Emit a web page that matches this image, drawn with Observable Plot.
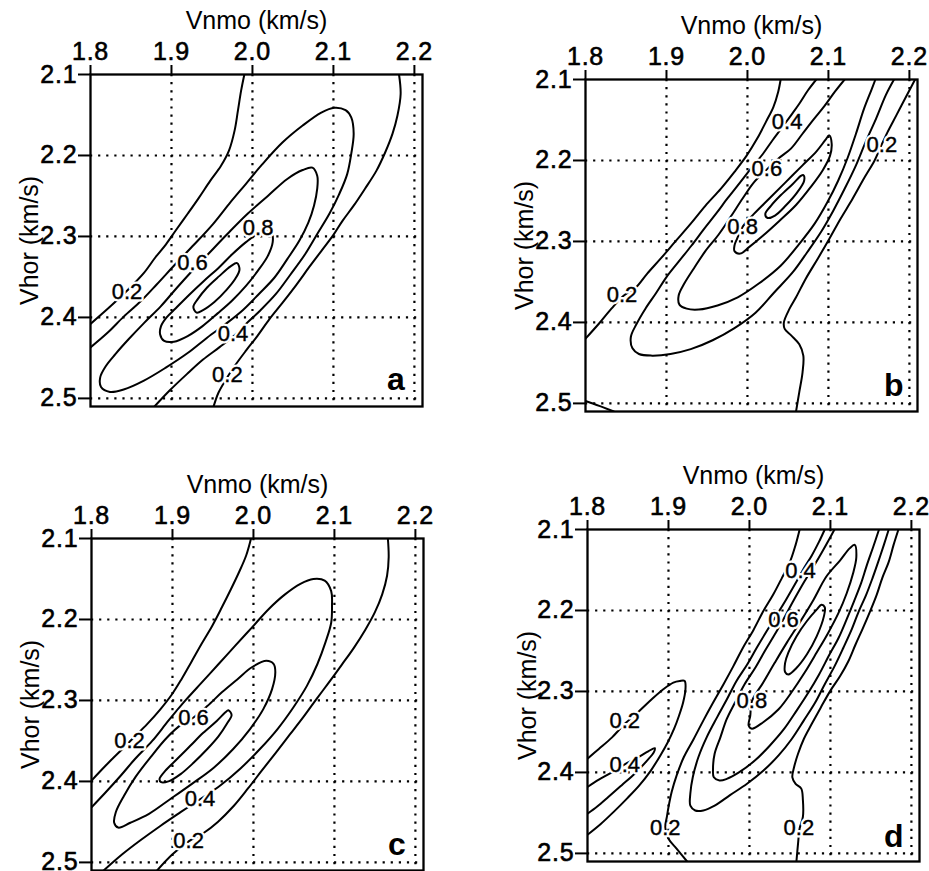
<!DOCTYPE html>
<html><head><meta charset="utf-8">
<script src="https://cdn.jsdelivr.net/npm/d3@7"></script>
<script src="https://cdn.jsdelivr.net/npm/@observablehq/plot@0.6"></script>
<style>
html,body{margin:0;padding:0;background:#fff;overflow:hidden;}
#fig{position:relative;width:929px;height:871px;overflow:hidden;background:#fff;font-family:"Liberation Sans",Arial,Helvetica,sans-serif;}
#fig > *{position:absolute;}
#fig .ytitle{font-size:25px;line-height:25px;white-space:nowrap;color:#000;transform-origin:0 0;}
svg g[aria-label="x-axis tick label"] text, svg g[aria-label="y-axis tick label"] text{letter-spacing:0.8px;}
</style></head><body><div id="fig"></div>
<script>
const xTicks = [1.8, 1.9, 2.0, 2.1, 2.2];
const yTicks = [2.1, 2.2, 2.3, 2.4, 2.5];
const gridX = [1.9, 2.0, 2.1, 2.2];
const gridY = [2.2, 2.3, 2.4, 2.5];
const xTitle = "Vnmo (km/s)";
const yTitle = "Vhor (km/s)";

// ---- panel a : contour lines [Vnmo, Vhor]
const a_l02 = [[1.990,2.100],[1.986,2.120],[1.982,2.145],[1.978,2.169],[1.971,2.194],[1.961,2.213],[1.948,2.231],[1.934,2.252],[1.920,2.272],[1.905,2.293],[1.893,2.310],[1.880,2.326],[1.866,2.345],[1.845,2.367],[1.825,2.386],[1.800,2.408]];
const a_l04 = [[1.800,2.437],[1.821,2.419],[1.841,2.399],[1.862,2.380],[1.882,2.359],[1.905,2.334],[1.928,2.310],[1.951,2.285],[1.971,2.260],[1.992,2.235],[2.012,2.211],[2.037,2.184],[2.062,2.163],[2.085,2.147],[2.101,2.141],[2.115,2.144],[2.122,2.153],[2.125,2.173],[2.122,2.198],[2.117,2.223],[2.107,2.248],[2.095,2.272],[2.080,2.297],[2.065,2.322],[2.047,2.347],[2.029,2.371],[2.009,2.392],[1.992,2.408],[1.977,2.423],[1.959,2.437],[1.939,2.452],[1.919,2.470],[1.898,2.490],[1.879,2.510]];
const a_l06 = [[2.074,2.215],[2.080,2.225],[2.080,2.241],[2.076,2.262],[2.069,2.283],[2.058,2.305],[2.043,2.328],[2.027,2.351],[2.008,2.371],[1.988,2.391],[1.967,2.408],[1.944,2.425],[1.920,2.444],[1.893,2.462],[1.866,2.478],[1.841,2.489],[1.824,2.492],[1.813,2.486],[1.812,2.474],[1.819,2.460],[1.831,2.445],[1.847,2.427],[1.866,2.407],[1.887,2.386],[1.907,2.363],[1.926,2.342],[1.946,2.321],[1.969,2.297],[1.994,2.272],[2.019,2.250],[2.043,2.229],[2.062,2.218]];
const a_l08 = [[2.024,2.297],[2.025,2.307],[2.019,2.324],[2.007,2.342],[1.992,2.361],[1.975,2.379],[1.957,2.395],[1.938,2.411],[1.920,2.423],[1.903,2.430],[1.891,2.429],[1.886,2.421],[1.887,2.411],[1.894,2.400],[1.905,2.389],[1.922,2.372],[1.940,2.355],[1.959,2.338],[1.975,2.322],[1.992,2.307],[2.006,2.297],[2.016,2.294]];
const a_l09 = [[1.981,2.333],[1.984,2.341],[1.979,2.352],[1.968,2.366],[1.953,2.381],[1.939,2.391],[1.931,2.394],[1.927,2.387],[1.932,2.378],[1.944,2.363],[1.959,2.349],[1.973,2.337]];
const a_r02 = [[2.181,2.100],[2.183,2.124],[2.179,2.151],[2.173,2.173],[2.164,2.196],[2.153,2.219],[2.139,2.241],[2.125,2.262],[2.111,2.281],[2.100,2.298],[2.085,2.318],[2.070,2.338],[2.054,2.360],[2.037,2.382],[2.021,2.402],[2.006,2.423],[1.992,2.441],[1.978,2.460],[1.967,2.477],[1.958,2.493],[1.952,2.510]];
const a_labels = [[1.845,2.368,"0.2"],[1.926,2.333,"0.6"],[2.007,2.290,"0.8"],[1.976,2.420,"0.4"],[1.969,2.471,"0.2"]];

// ---- panel b
const b_l02 = [[2.041,2.100],[2.038,2.115],[2.032,2.134],[2.023,2.152],[2.012,2.173],[1.999,2.194],[1.984,2.214],[1.967,2.235],[1.948,2.256],[1.930,2.278],[1.911,2.300],[1.893,2.321],[1.876,2.340],[1.862,2.357],[1.847,2.367],[1.832,2.383],[1.817,2.401],[1.800,2.420]];
const b_l04 = [[2.085,2.100],[2.075,2.113],[2.064,2.130],[2.054,2.144],[2.043,2.159],[2.031,2.175],[2.019,2.192],[2.005,2.209],[1.991,2.227],[1.976,2.246],[1.961,2.266],[1.946,2.285],[1.931,2.305],[1.915,2.325],[1.900,2.344],[1.887,2.364],[1.874,2.383],[1.863,2.402],[1.856,2.418],[1.858,2.432],[1.866,2.439],[1.882,2.441],[1.905,2.439],[1.930,2.433],[1.957,2.422],[1.984,2.407],[2.010,2.388],[2.033,2.363],[2.056,2.338],[2.074,2.313],[2.091,2.288],[2.106,2.262],[2.120,2.235],[2.134,2.206],[2.146,2.177],[2.159,2.148],[2.171,2.119],[2.181,2.100]];
const b_l06 = [[2.120,2.100],[2.108,2.115],[2.095,2.133],[2.082,2.149],[2.068,2.167],[2.054,2.185],[2.039,2.197],[2.024,2.211],[2.008,2.227],[1.994,2.247],[1.979,2.270],[1.964,2.292],[1.948,2.312],[1.934,2.333],[1.922,2.352],[1.915,2.367],[1.916,2.378],[1.925,2.383],[1.940,2.384],[1.963,2.379],[1.988,2.369],[2.014,2.352],[2.041,2.330],[2.064,2.303],[2.083,2.278],[2.099,2.251],[2.112,2.225],[2.124,2.196],[2.134,2.167],[2.144,2.136],[2.153,2.113],[2.158,2.100]];
const b_l08 = [[2.101,2.169],[2.104,2.179],[2.102,2.194],[2.093,2.212],[2.078,2.233],[2.060,2.255],[2.039,2.275],[2.019,2.293],[2.002,2.307],[1.991,2.315],[1.984,2.312],[1.984,2.305],[1.987,2.297],[1.994,2.282],[2.008,2.266],[2.027,2.247],[2.047,2.227],[2.068,2.206],[2.085,2.189],[2.096,2.175]];
const b_l09 = [[2.069,2.218],[2.070,2.225],[2.061,2.240],[2.047,2.256],[2.034,2.268],[2.025,2.271],[2.022,2.266],[2.029,2.256],[2.041,2.243],[2.056,2.229],[2.066,2.219]];
const b_r02 = [[2.207,2.100],[2.196,2.121],[2.184,2.144],[2.173,2.165],[2.165,2.182],[2.157,2.200],[2.144,2.222],[2.130,2.247],[2.115,2.272],[2.101,2.297],[2.087,2.321],[2.072,2.346],[2.060,2.369],[2.052,2.383],[2.045,2.400],[2.046,2.408],[2.054,2.416],[2.064,2.427],[2.069,2.441],[2.068,2.462],[2.064,2.486],[2.060,2.510]];
const b_c02 = [[1.800,2.497],[1.817,2.503],[1.835,2.510]];
const b_labels = [[2.049,2.152,"0.4"],[2.024,2.211,"0.6"],[1.994,2.282,"0.8"],[2.166,2.181,"0.2"],[1.845,2.366,"0.2"]];

// ---- panel c
const c_l02 = [[1.997,2.100],[1.991,2.121],[1.982,2.142],[1.972,2.163],[1.961,2.185],[1.949,2.208],[1.936,2.230],[1.923,2.253],[1.911,2.274],[1.899,2.293],[1.885,2.311],[1.869,2.329],[1.854,2.344],[1.847,2.351],[1.834,2.364],[1.817,2.381],[1.800,2.399]];
const c_l04 = [[1.800,2.432],[1.817,2.414],[1.836,2.393],[1.854,2.372],[1.875,2.350],[1.895,2.325],[1.916,2.300],[1.936,2.278],[1.957,2.255],[1.977,2.233],[1.998,2.210],[2.019,2.187],[2.039,2.169],[2.058,2.156],[2.074,2.150],[2.088,2.152],[2.096,2.165],[2.097,2.183],[2.096,2.204],[2.089,2.228],[2.079,2.255],[2.066,2.282],[2.049,2.309],[2.030,2.335],[2.008,2.360],[1.984,2.384],[1.959,2.405],[1.934,2.422],[1.910,2.438],[1.885,2.455],[1.860,2.473],[1.838,2.490],[1.815,2.510]];
const c_l06 = [[2.016,2.251],[2.025,2.255],[2.027,2.265],[2.023,2.286],[2.012,2.311],[1.996,2.335],[1.975,2.360],[1.951,2.383],[1.924,2.403],[1.897,2.422],[1.871,2.440],[1.848,2.451],[1.833,2.457],[1.828,2.451],[1.830,2.438],[1.840,2.418],[1.854,2.395],[1.873,2.370],[1.893,2.346],[1.912,2.329],[1.926,2.321],[1.943,2.307],[1.961,2.290],[1.980,2.274],[1.998,2.259]];
const c_l08 = [[1.969,2.312],[1.973,2.318],[1.967,2.329],[1.957,2.344],[1.943,2.360],[1.926,2.377],[1.910,2.391],[1.895,2.400],[1.886,2.401],[1.884,2.397],[1.891,2.387],[1.906,2.372],[1.922,2.356],[1.938,2.340],[1.955,2.325],[1.965,2.315]];
const c_r02 = [[2.166,2.100],[2.167,2.123],[2.165,2.146],[2.159,2.169],[2.150,2.191],[2.138,2.213],[2.124,2.235],[2.109,2.256],[2.093,2.278],[2.078,2.298],[2.062,2.320],[2.045,2.342],[2.028,2.364],[2.010,2.387],[1.993,2.409],[1.975,2.431],[1.956,2.450],[1.938,2.464],[1.920,2.474],[1.900,2.490],[1.881,2.510]];
const c_labels = [[1.847,2.350,"0.2"],[1.926,2.321,"0.6"],[1.934,2.422,"0.4"],[1.920,2.473,"0.2"]];

// ---- panel d
const d_l02 = [[2.062,2.100],[2.057,2.119],[2.050,2.140],[2.040,2.160],[2.029,2.181],[2.017,2.201],[2.005,2.224],[1.992,2.246],[1.980,2.269],[1.968,2.291],[1.955,2.314],[1.943,2.336],[1.931,2.359],[1.919,2.381],[1.910,2.404],[1.904,2.424],[1.900,2.443],[1.898,2.455],[1.896,2.468],[1.900,2.482],[1.910,2.494],[1.923,2.510]];
const d_l04 = [[2.093,2.100],[2.086,2.115],[2.077,2.132],[2.066,2.150],[2.056,2.168],[2.045,2.187],[2.034,2.205],[2.021,2.226],[2.009,2.246],[1.997,2.267],[1.984,2.287],[1.972,2.310],[1.960,2.332],[1.947,2.357],[1.937,2.381],[1.930,2.406],[1.927,2.426],[1.927,2.441],[1.933,2.447],[1.943,2.447],[1.957,2.441],[1.976,2.428],[1.997,2.414],[2.017,2.398],[2.036,2.379],[2.052,2.359],[2.067,2.336],[2.081,2.314],[2.093,2.291],[2.105,2.269],[2.116,2.246],[2.126,2.224],[2.135,2.201],[2.144,2.181],[2.152,2.160],[2.159,2.140],[2.166,2.119],[2.172,2.100]];
const d_l06 = [[2.105,2.100],[2.098,2.113],[2.089,2.129],[2.079,2.146],[2.068,2.164],[2.056,2.185],[2.044,2.207],[2.031,2.230],[2.019,2.250],[2.007,2.271],[1.994,2.291],[1.982,2.314],[1.972,2.334],[1.964,2.357],[1.957,2.377],[1.955,2.396],[1.956,2.406],[1.963,2.410],[1.972,2.408],[1.987,2.400],[2.007,2.385],[2.025,2.367],[2.043,2.346],[2.058,2.324],[2.073,2.301],[2.086,2.279],[2.098,2.256],[2.110,2.234],[2.120,2.211],[2.129,2.189],[2.138,2.166],[2.145,2.144],[2.153,2.121],[2.160,2.100]];
const d_l08 = [[2.130,2.119],[2.132,2.134],[2.128,2.154],[2.120,2.179],[2.110,2.203],[2.097,2.228],[2.083,2.252],[2.068,2.277],[2.052,2.301],[2.036,2.322],[2.017,2.338],[2.003,2.346],[1.999,2.342],[2.001,2.330],[2.003,2.312],[2.017,2.289],[2.031,2.265],[2.046,2.240],[2.062,2.215],[2.079,2.187],[2.095,2.158],[2.112,2.138],[2.124,2.123]];
const d_l09 = [[2.089,2.193],[2.093,2.196],[2.092,2.207],[2.083,2.232],[2.071,2.254],[2.058,2.271],[2.048,2.279],[2.044,2.276],[2.044,2.265],[2.048,2.252],[2.058,2.232],[2.071,2.213],[2.083,2.199]];
const d_r02 = [[2.184,2.100],[2.178,2.119],[2.172,2.140],[2.164,2.160],[2.157,2.181],[2.149,2.201],[2.140,2.222],[2.131,2.242],[2.122,2.263],[2.112,2.281],[2.100,2.299],[2.088,2.320],[2.077,2.340],[2.067,2.359],[2.060,2.377],[2.055,2.394],[2.053,2.406],[2.057,2.414],[2.064,2.420],[2.066,2.434],[2.066,2.455],[2.062,2.469],[2.060,2.488],[2.058,2.510]];
const d_lobe02 = [[1.800,2.383],[1.814,2.371],[1.830,2.357],[1.846,2.340],[1.863,2.325],[1.879,2.310],[1.894,2.297],[1.906,2.289],[1.914,2.287],[1.920,2.287],[1.921,2.297],[1.918,2.314],[1.913,2.330],[1.907,2.346],[1.899,2.363],[1.890,2.379],[1.878,2.398],[1.864,2.416],[1.849,2.432],[1.832,2.449],[1.816,2.464],[1.800,2.477]];
const d_lobe04 = [[1.800,2.418],[1.814,2.409],[1.830,2.400],[1.846,2.390],[1.863,2.381],[1.875,2.374],[1.883,2.370],[1.882,2.375],[1.873,2.386],[1.859,2.401],[1.842,2.416],[1.826,2.430],[1.812,2.442],[1.800,2.451]];
const d_labels = [[2.063,2.151,"0.4"],[2.042,2.212,"0.6"],[2.003,2.312,"0.8"],[1.846,2.337,"0.2"],[1.846,2.391,"0.4"],[1.896,2.469,"0.2"],[2.061,2.469,"0.2"]];

const FONT = '"Liberation Sans", Arial, Helvetica, sans-serif';
const PW = 332, PH = 332, ML = 92, MT = 76, MR = 8, MB = 4;
const XD = [1.8, 2.21], YD = [2.1, 2.51];

const panels = [
  {letter:"a", left:90,    top:74,    ldx:-17.7, ldy:-16.7, open:[a_l02,a_l04,a_r02], closed:[a_l06,a_l08,a_l09], labels:a_labels},
  {letter:"b", left:585,   top:79.3,  ldx:-14,   ldy:-16,   open:[b_l02,b_l04,b_l06,b_r02,b_c02], closed:[b_l08,b_l09], labels:b_labels},
  {letter:"c", left:91,    top:538.3, ldx:-17.6, ldy:-15.6, open:[c_l02,c_l04,c_r02], closed:[c_l06,c_l08], labels:c_labels},
  {letter:"d", left:587.3, top:529.3, ldx:-16,   ldy:-14.6, open:[d_l02,d_l04,d_l06,d_r02,d_lobe02,d_lobe04], closed:[d_l08,d_l09], labels:d_labels}
];

const fmt = d3.format(".1f");
const fig = document.getElementById("fig");

for (const p of panels) {
  const lineOpts = {x: d => d[0], y: d => d[1], stroke: "black", strokeWidth: 2, clip: true};
  const lab = {x: d => d[0], y: d => d[1], text: d => d[2], fontSize: 22};
  const marks = [
    Plot.ruleX(gridX, {stroke: "black", strokeWidth: 2.2, strokeDasharray: "2.2,5.9"}),
    Plot.ruleY(gridY, {stroke: "black", strokeWidth: 2.2, strokeDasharray: "2.2,5.9"}),
    ...p.open.map(l => Plot.line(l, {...lineOpts, curve: "catmull-rom"})),
    ...p.closed.map(l => Plot.line(l, {...lineOpts, curve: "catmull-rom-closed"})),
    Plot.text(p.labels, {...lab, fill: "white", stroke: "white", strokeWidth: 5, strokeLinejoin: "round"}),
    Plot.text(p.labels, {...lab, fill: "black", stroke: "black", strokeWidth: 0.4}),
    Plot.frame({stroke: "black", strokeWidth: 2.3}),
    Plot.axisX(xTicks, {anchor: "top", tickSize: 10, tickPadding: 5, tickFormat: fmt, label: null, strokeWidth: 2, fontSize: 25, textStroke: "black", textStrokeWidth: 0.6}),
    Plot.axisY(yTicks, {anchor: "left", tickSize: 12, tickPadding: 1, tickFormat: fmt, label: null, strokeWidth: 2, fontSize: 25, textStroke: "black", textStrokeWidth: 0.6}),
    Plot.text([xTitle], {text: d => d, frameAnchor: "top", dy: -45.5, textAnchor: "middle", lineAnchor: "bottom", fontSize: 25}),
    Plot.text([p.letter], {text: d => d, frameAnchor: "bottom-right", dx: p.ldx, dy: p.ldy, textAnchor: "end", lineAnchor: "bottom", fontSize: 32, fontWeight: "bold"})
  ];
  const svg = Plot.plot({
    width: ML + PW + MR, height: MT + PH + MB,
    marginLeft: ML, marginTop: MT, marginRight: MR, marginBottom: MB,
    x: {domain: XD},
    y: {domain: YD, reverse: true},
    style: {fontFamily: FONT, fontSize: "24px", color: "black", background: "transparent", overflow: "visible"},
    marks
  });
  svg.style.left = (p.left - ML) + "px";
  svg.style.top = (p.top - MT) + "px";
  fig.appendChild(svg);

  // rotated y-axis title: measure its width, then place it so it is centred on the frame
  const t = document.createElement("div");
  t.className = "ytitle";
  t.textContent = yTitle;
  fig.appendChild(t);
  const w = t.getBoundingClientRect().width;
  const cy = p.top + PH / 2;          // vertical centre of the frame
  // with origin at top-left and rotate(-90deg), the box spans x:[left, left+25], y:[top-w, top]
  t.style.left = (p.left - 54 - 18.8) + "px";
  t.style.top = (cy + w / 2) + "px";
  t.style.transform = "rotate(-90deg)";
}
</script>
</body></html>
